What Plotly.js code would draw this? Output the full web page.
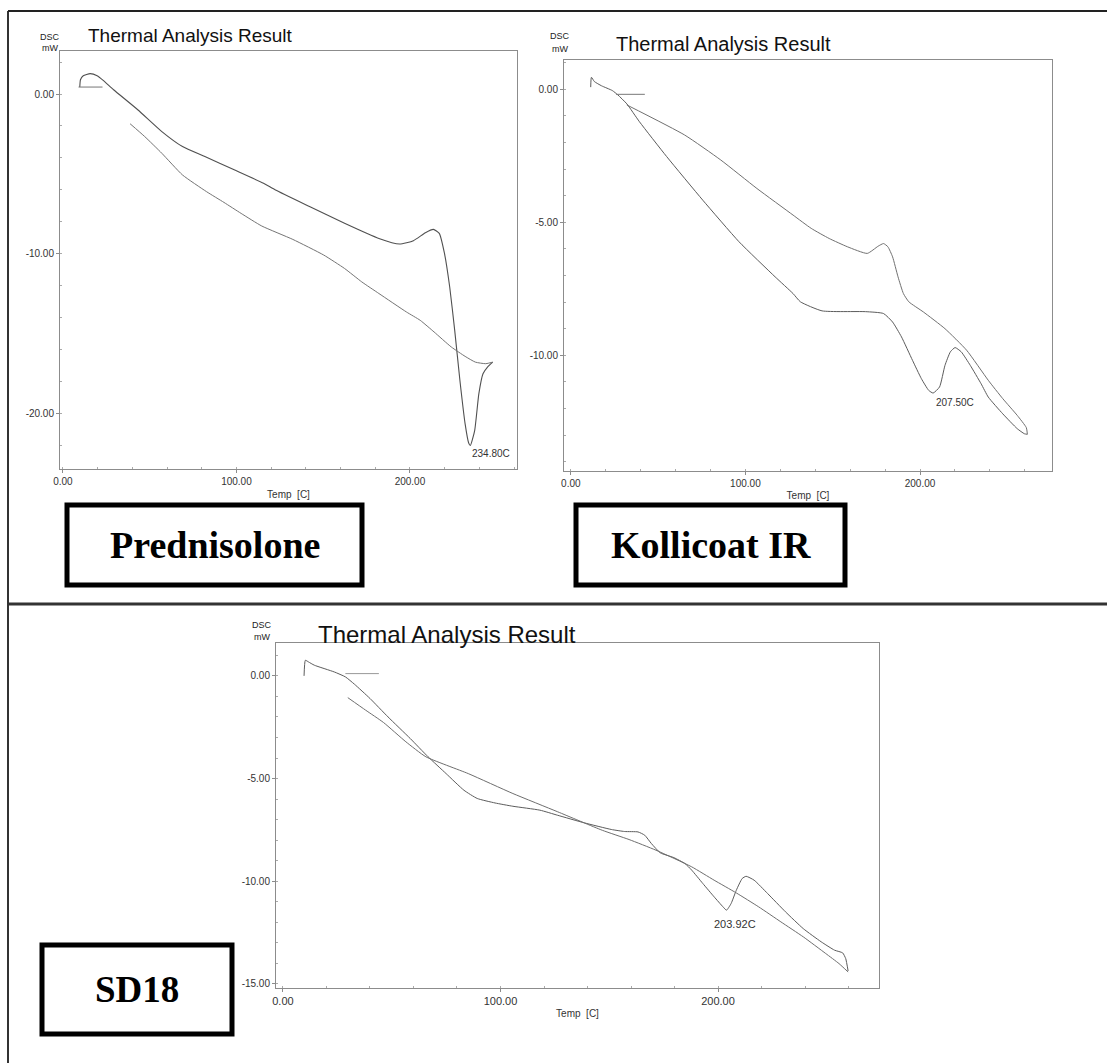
<!DOCTYPE html>
<html>
<head>
<meta charset="utf-8">
<script src="https://cdn.plot.ly/plotly-3.0.1.min.js"></script>
<style>html,body{margin:0;padding:0;background:#fff;}#chart{width:1107px;height:1063px;}</style>
</head>
<body>
<div id="chart"></div>
<script>
// ---------- DATA ----------
// Prednisolone (panel 1)
const predHeatX = [9.7, 10.1, 11.7, 15.7, 19.7, 23.2, 29.2, 43.1, 57.0, 68.9, 81.8, 98.7, 115.6, 122.5, 142.4, 162.3, 182.1, 194.0, 202.0, 208.9, 213.5, 216.9, 219.9, 222.9, 225.8, 228.8, 231.8, 233.8, 234.8, 237.3, 239.7, 242.1, 244.7, 247.7];
const predHeatY = [0.44, 0.90, 1.15, 1.28, 1.15, 0.86, 0.27, -0.98, -2.35, -3.29, -3.92, -4.75, -5.59, -6.01, -7.06, -8.10, -9.05, -9.40, -9.19, -8.69, -8.48, -8.73, -9.99, -12.08, -14.81, -17.95, -20.67, -21.85, -22.03, -21.09, -18.79, -17.53, -17.11, -16.80];
const predCoolX = [38.7, 47.1, 57.0, 68.9, 82.8, 92.8, 102.7, 114.6, 132.5, 150.3, 162.3, 172.2, 182.1, 198.0, 205.9, 213.9, 223.8, 231.8, 237.7, 243.7, 247.7];
const predCoolY = [-1.86, -2.66, -3.71, -5.07, -6.12, -6.79, -7.48, -8.27, -9.11, -10.09, -10.93, -11.77, -12.50, -13.66, -14.18, -14.91, -15.85, -16.44, -16.80, -16.90, -16.80];
const predBaseX = [9.0, 22.8];
const predBaseY = [0.44, 0.44];
const predPeakLabel = "234.80C";
const predPeak = [234.8, -22.55];

// Kollicoat IR (panel 2)
const kolHeatX = [11.4, 11.8, 13.5, 17.6, 23.8, 26.9, 32.1, 39.3, 54.9, 75.6, 96.3, 117.0, 127.3, 131.5, 143.9, 168.7, 179.1, 184.3, 189.4, 195.7, 200.8, 205.0, 207.5, 211.2, 214.3, 217.4, 220.1, 223.6, 228.8, 235.0, 239.1, 247.4, 255.7, 259.8, 261.5];
const kolHeatY = [0.08, 0.45, 0.29, 0.13, -0.05, -0.21, -0.55, -1.22, -2.53, -4.17, -5.73, -7.05, -7.68, -7.99, -8.33, -8.36, -8.43, -8.75, -9.31, -10.19, -10.88, -11.32, -11.42, -11.19, -10.38, -9.87, -9.71, -9.87, -10.38, -11.07, -11.57, -12.20, -12.76, -12.95, -12.97];
const kolCoolX = [261.5, 260.9, 255.7, 247.4, 239.1, 226.7, 214.3, 201.9, 193.6, 190.5, 187.4, 184.3, 181.6, 179.1, 176.0, 169.8, 158.4, 148.0, 137.7, 127.3, 106.6, 85.9, 65.2, 32.1];
const kolCoolY = [-12.97, -12.72, -12.26, -11.63, -10.94, -9.81, -9.00, -8.37, -7.99, -7.68, -7.05, -6.30, -5.92, -5.80, -5.90, -6.17, -5.92, -5.61, -5.23, -4.73, -3.73, -2.66, -1.72, -0.59];
const kolBaseX = [25.9, 42.4];
const kolBaseY = [-0.19, -0.19];
const kolPeakLabel = "207.50C";
const kolPeak = [208.0, -11.76];

// SD18 (panel 3)
const sdAX = [9.7, 10.3, 11.7, 14.4, 23.6, 28.7, 32.9, 40.0, 48.3, 58.5, 66.7, 75.0, 83.2, 89.3, 97.5, 105.7, 118.1, 126.3, 138.6, 150.9, 157.1, 163.2, 166.3, 169.4, 173.5, 179.7, 184.8, 187.9, 193.0, 198.2, 202.3, 203.9, 206.0, 208.4, 211.1, 212.9, 216.6, 222.8, 231.0, 239.2, 247.4, 253.6, 257.3, 258.7, 259.8];
const sdAY = [0.00, 0.76, 0.68, 0.52, 0.19, -0.05, -0.41, -1.10, -2.00, -3.05, -3.94, -4.76, -5.57, -5.97, -6.19, -6.35, -6.54, -6.79, -7.16, -7.48, -7.58, -7.60, -7.76, -8.17, -8.62, -8.85, -9.14, -9.46, -10.11, -10.76, -11.25, -11.41, -11.09, -10.44, -9.87, -9.76, -9.95, -10.60, -11.49, -12.31, -12.95, -13.36, -13.49, -13.77, -14.37];
const sdBX = [29.8, 38.0, 46.2, 56.5, 65.7, 85.2, 105.7, 126.3, 146.8, 159.1, 171.5, 187.9, 198.2, 208.4, 218.7, 228.9, 239.2, 249.5, 255.6, 259.8];
const sdBY = [-1.06, -1.67, -2.27, -3.21, -3.94, -4.76, -5.73, -6.62, -7.52, -7.97, -8.49, -9.30, -9.95, -10.57, -11.25, -11.98, -12.71, -13.52, -14.01, -14.42];
const sdBaseX = [28.7, 44.1];
const sdBaseY = [0.11, 0.11];
const sdPeakLabel = "203.92C";
const sdPeak = [197.1, -12.06];

// Tick labels
const xTickVals = [0, 100, 200];
const xTickText = ["0.00", "100.00", "200.00"];
const y1TickVals = [0, -10, -20];
const y1TickText = ["0.00", "-10.00", "-20.00"];
const y2TickVals = [0, -5, -10];
const y2TickText = ["0.00", "-5.00", "-10.00"];
const y3TickVals = [0, -5, -10, -15];
const y3TickText = ["0.00", "-5.00", "-10.00", "-15.00"];

const panelNames = ["Prednisolone", "Kollicoat IR", "SD18"];
const chartTitle = "Thermal Analysis Result";
const xTitle = "Temp  [C]";

// ---------- LAYOUT HELPERS ----------
const W = 1107, H = 1063;
const px = x => x / W;
const py = y => 1 - y / H;
const FONT = "Liberation Sans, Arial, sans-serif";
const SERIF = "Liberation Serif, Times New Roman, serif";

function line(x, y, xa, ya, color, width) {
  return {x: x, y: y, xaxis: xa, yaxis: ya, type: "scatter", mode: "lines",
    line: {color: color, width: width, shape: "spline", smoothing: 0.5}, hoverinfo: "skip"};
}

const data = [
  line(predHeatX, predHeatY, "x", "y", "#505050", 1.1),
  line(predCoolX, predCoolY, "x", "y", "#747474", 1.0),
  line(predBaseX, predBaseY, "x", "y", "#777", 1.0),
  line(kolHeatX, kolHeatY, "x2", "y2", "#5c5c5c", 1.0),
  line(kolCoolX, kolCoolY, "x2", "y2", "#707070", 1.0),
  line(kolBaseX, kolBaseY, "x2", "y2", "#777", 1.0),
  line(sdAX, sdAY, "x3", "y3", "#5c5c5c", 1.0),
  line(sdBX, sdBY, "x3", "y3", "#6e6e6e", 1.0),
  line(sdBaseX, sdBaseY, "x3", "y3", "#999", 1.0)
];

function xAxis(domain, range, anchor, fs, standoff) {
  return {domain: domain, range: range, anchor: anchor, showline: true, mirror: true,
    linecolor: "#8c8c8c", linewidth: 1, ticks: "outside", ticklen: 3, tickcolor: "#8c8c8c",
    tickmode: "array", tickvals: xTickVals, ticktext: xTickText,
    tickfont: {family: FONT, size: fs, color: "#333"},
    showgrid: false, zeroline: false, fixedrange: true,
    minor: {ticks: "inside", tickmode: "linear", tick0: 0, dtick: 20, ticklen: 2, tickcolor: "#aaa", showgrid: false},
    title: {text: xTitle, font: {family: FONT, size: 10, color: "#333"}, standoff: standoff}};
}
function yAxis(domain, range, anchor, vals, text, fs, minorD) {
  return {domain: domain, range: range, anchor: anchor, showline: true, mirror: true,
    linecolor: "#8c8c8c", linewidth: 1, ticks: "outside", ticklen: 3, tickcolor: "#8c8c8c",
    tickmode: "array", tickvals: vals, ticktext: text,
    tickfont: {family: FONT, size: fs, color: "#333"},
    showgrid: false, zeroline: false, fixedrange: true,
    minor: {ticks: "inside", tickmode: "linear", tick0: 0, dtick: minorD, ticklen: 2, tickcolor: "#aaa", showgrid: false}};
}

const annotations = [];
function ann(text, x, y, size, opts) {
  annotations.push(Object.assign({text: text, x: px(x), y: py(y), xref: "paper", yref: "paper",
    showarrow: false, xanchor: "left", yanchor: "middle",
    font: {family: FONT, size: size, color: "#222"}}, opts || {}));
}
// Panel headers
ann("DSC", 50, 37, 9, {xanchor: "center"});
ann("mW", 50, 48, 9, {xanchor: "center"});
ann(chartTitle, 86, 35, 19, {font: {family: FONT, size: 19, color: "#111"}});
ann("DSC", 560, 36, 9, {xanchor: "center"});
ann("mW", 560, 49, 9, {xanchor: "center"});
ann(chartTitle, 614, 44, 20, {font: {family: FONT, size: 20, color: "#111"}});
ann("DSC", 262, 625, 9, {xanchor: "center"});
ann("mW", 262, 637, 9, {xanchor: "center"});
ann(chartTitle, 316, 634, 24, {font: {family: FONT, size: 24, color: "#111"}});

// Peak labels (data coords)
annotations.push({text: predPeakLabel, x: predPeak[0], y: predPeak[1], xref: "x", yref: "y", showarrow: false,
  xanchor: "left", yanchor: "middle", font: {family: FONT, size: 10, color: "#333"}});
annotations.push({text: kolPeakLabel, x: kolPeak[0], y: kolPeak[1], xref: "x2", yref: "y2", showarrow: false,
  xanchor: "left", yanchor: "middle", font: {family: FONT, size: 10, color: "#333"}});
annotations.push({text: sdPeakLabel, x: sdPeak[0], y: sdPeak[1], xref: "x3", yref: "y3", showarrow: false,
  xanchor: "left", yanchor: "middle", font: {family: FONT, size: 11, color: "#333"}});

// Sample name boxes
const boxes = [[67, 362, 505, 585], [576, 845, 505, 585], [42, 232, 945, 1034]];
const shapes = [];
boxes.forEach((b, i) => {
  shapes.push({type: "rect", xref: "paper", yref: "paper", x0: px(b[0]), x1: px(b[1]), y0: py(b[3]), y1: py(b[2]),
    line: {color: "#000", width: 5}, fillcolor: "rgba(0,0,0,0)"});
  annotations.push({text: "<b>" + panelNames[i] + "</b>", x: px((b[0] + b[1]) / 2), y: py((b[2] + b[3]) / 2),
    xref: "paper", yref: "paper", showarrow: false, xanchor: "center", yanchor: "middle",
    font: {family: SERIF, size: i === 2 ? 37 : 38, color: "#000"}});
});
// Outer frame
shapes.push({type: "line", xref: "paper", yref: "paper", x0: px(8), x1: px(8), y0: 0, y1: py(11), line: {color: "#333", width: 2}});
shapes.push({type: "line", xref: "paper", yref: "paper", x0: px(8), x1: 1, y0: py(11), y1: py(11), line: {color: "#222", width: 2}});
shapes.push({type: "line", xref: "paper", yref: "paper", x0: px(8), x1: 1, y0: py(604), y1: py(604), line: {color: "#333", width: 3}});

const layout = {
  width: W, height: H, margin: {l: 0, r: 0, t: 0, b: 0},
  paper_bgcolor: "#fff", plot_bgcolor: "#fff", showlegend: false,
  xaxis: xAxis([px(60), px(517)], [-1.7, 261.7], "y", 10, 4),
  yaxis: yAxis([py(469), py(51)], [-23.5, 2.7], "x", y1TickVals, y1TickText, 10, 2),
  xaxis2: xAxis([px(564), px(1052)], [-3.9, 275.6], "y2", 10, 3),
  yaxis2: yAxis([py(471), py(60)], [-14.35, 1.1], "x2", y2TickVals, y2TickText, 10, 1),
  xaxis3: xAxis([px(276), px(879)], [-3.2, 274], "y3", 11, 3),
  yaxis3: yAxis([py(988), py(643)], [-15.2, 1.6], "x3", y3TickVals, y3TickText, 10, 1),
  annotations: annotations,
  shapes: shapes
};

Plotly.newPlot("chart", data, layout, {staticPlot: true, displayModeBar: false});
</script>
</body>
</html>
